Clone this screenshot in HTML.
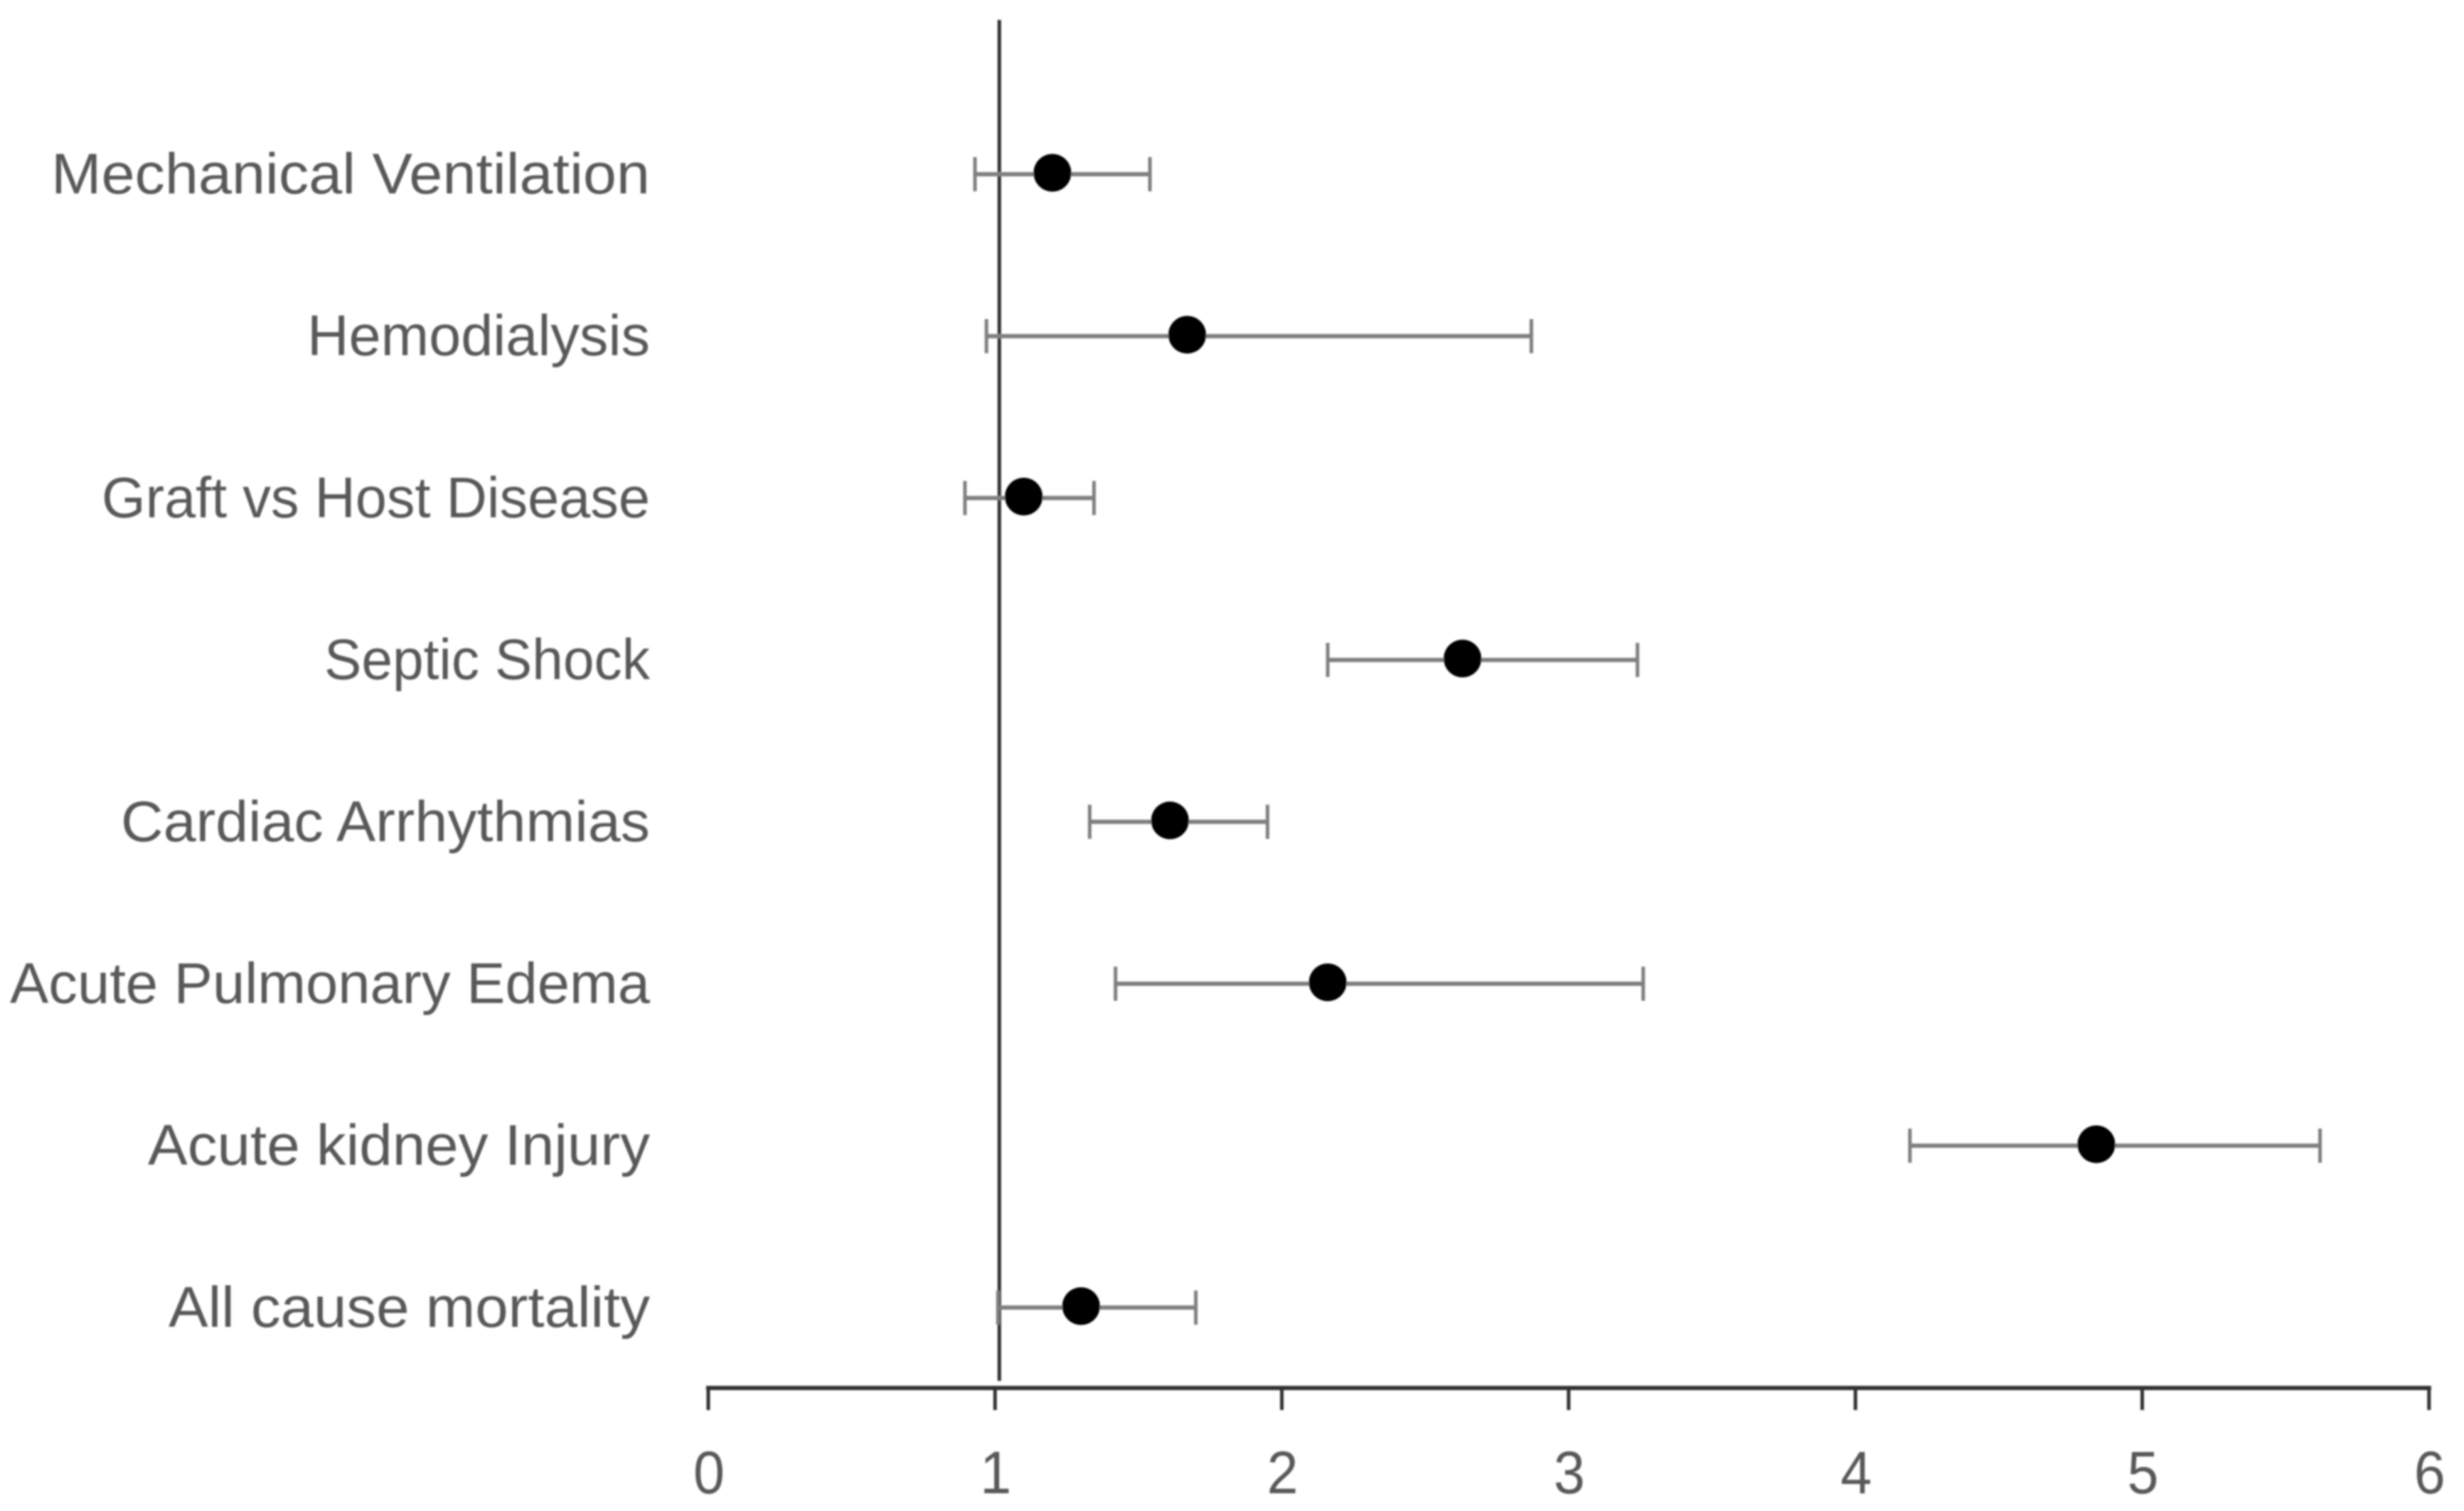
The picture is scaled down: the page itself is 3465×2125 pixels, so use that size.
<!DOCTYPE html>
<html lang="en">
<head>
<meta charset="utf-8">
<title>Forest plot of clinical outcomes</title>
<style>
  html, body { margin: 0; padding: 0; background: #fff; }
  #chart { display: block; width: 3465px; height: 2125px; }
  text { font-family: "Liberation Sans", sans-serif; fill: #595959; }
</style>
</head>
<body>
<svg id="chart" xmlns="http://www.w3.org/2000/svg" width="3465" height="2125" viewBox="0 0 3465 2125">
  <defs>
    <filter id="soft" x="-2%" y="-2%" width="104%" height="104%">
      <feGaussianBlur stdDeviation="1.3"></feGaussianBlur>
    </filter>
  </defs>
  <rect x="0" y="0" width="3465" height="2125" fill="#ffffff"></rect>
  <g id="plot" filter="url(#soft)"></g>
</svg>
<script>
const categories = ["Mechanical Ventilation", "Hemodialysis", "Graft vs Host Disease", "Septic Shock", "Cardiac Arrhythmias", "Acute Pulmonary Edema", "Acute kidney Injury", "All cause mortality"];
const pointValues = [1.20, 1.67, 1.10, 2.63, 1.61, 2.16, 4.84, 1.30];
const lowerValues = [0.93, 0.97, 0.895, 2.16, 1.33, 1.42, 4.19, 1.01];
const upperValues = [1.54, 2.87, 1.345, 3.24, 1.95, 3.26, 5.62, 1.70];
const xTicks = [0, 1, 2, 3, 4, 5, 6];
const referenceValue = 1;

const NS = "http://www.w3.org/2000/svg";
const plot = document.getElementById("plot");
const xZero = 996, xUnit = 403.3, firstRowY = 243, rowStep = 227.7;
const axisY = 1952;

// Rendered label widths, matching the condensed face of the original chart.
const labelWidthPx = {
  "Mechanical Ventilation": 842,
  "Hemodialysis": 482,
  "Graft vs Host Disease": 771,
  "Septic Shock": 458,
  "Cardiac Arrhythmias": 744,
  "Acute Pulmonary Edema": 900,
  "Acute kidney Injury": 706,
  "All cause mortality": 677
};

function xScale(v) { return xZero + v * xUnit; }
function yScale(i) { return firstRowY + i * rowStep; }
function make(tag, attrs) {
  const el = document.createElementNS(NS, tag);
  for (const k in attrs) el.setAttribute(k, attrs[k]);
  plot.appendChild(el);
  return el;
}

// Reference line
const refLine = make("line", { x1: xScale(referenceValue) + 6, x2: xScale(referenceValue) + 6, y1: 28, y2: 1942, stroke: "#333333", "stroke-width": 5 });



// X axis
const axisLine = make("line", { x1: xScale(xTicks[0]) - 3, x2: xScale(xTicks[xTicks.length - 1]) + 3, y1: axisY, y2: axisY, stroke: "#333333", "stroke-width": 6 });



xTicks.forEach(function (t) {
  const tick = make("line", { x1: xScale(t), x2: xScale(t), y1: axisY, y2: 1983, stroke: "#333333", "stroke-width": 5 });
  
  
  const label = make("text", { x: xScale(t) + 1, y: 2100, "text-anchor": "middle", "font-size": 84, textLength: 44, lengthAdjust: "spacingAndGlyphs" });
  label.textContent = String(t);
  
  
});

// Rows
categories.forEach(function (name, i) {
  const y = yScale(i);
  const label = make("text", { x: 914, y: y + 29, "text-anchor": "end", "font-size": 81, textLength: labelWidthPx[name], lengthAdjust: "spacingAndGlyphs" });
  label.textContent = name;
  
  

  const whisker = make("line", { x1: xScale(lowerValues[i]), x2: xScale(upperValues[i]), y1: y + 2, y2: y + 2, stroke: "#7f7f7f", "stroke-width": 6 });
  
  

  const capLow = make("line", { x1: xScale(lowerValues[i]), x2: xScale(lowerValues[i]), y1: y - 22, y2: y + 26, stroke: "#7f7f7f", "stroke-width": 5 });
  
  

  const capHigh = make("line", { x1: xScale(upperValues[i]), x2: xScale(upperValues[i]), y1: y - 22, y2: y + 26, stroke: "#7f7f7f", "stroke-width": 5 });
  
  

  const point = make("circle", { cx: xScale(pointValues[i]), cy: y, r: 26.5, fill: "#000000" });
  
  
});
</script>
</body>
</html>
